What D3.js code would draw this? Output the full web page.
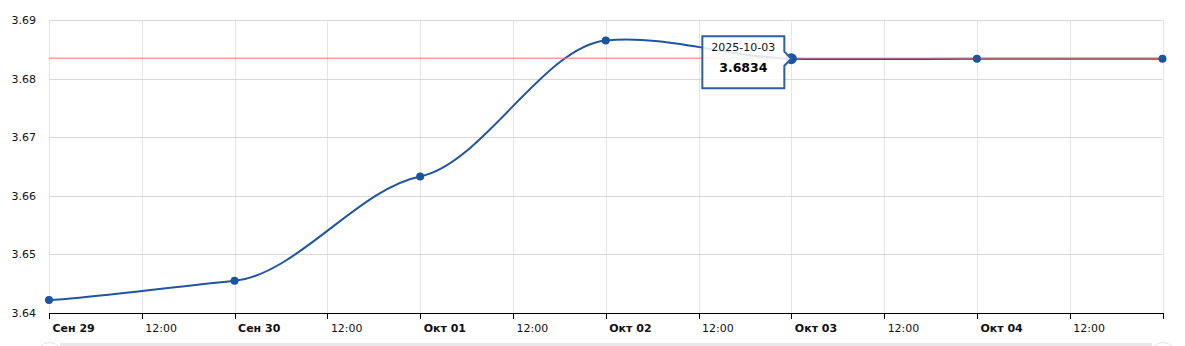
<!DOCTYPE html>
<html>
<head>
<meta charset="utf-8">
<script src="https://cdn.jsdelivr.net/npm/d3@7"></script>
<style>
  html, body { margin: 0; padding: 0; background: #fff; }
  svg { display: block; font-family: "DejaVu Sans", Verdana, sans-serif; }
</style>
</head>
<body>
<div id="chart"></div>
<script>
// rate by day
const dates = ['2025-09-29', '2025-09-30', '2025-10-01', '2025-10-02', '2025-10-03', '2025-10-04', '2025-10-05'];
const values = [3.6422, 3.6455, 3.6633, 3.6865, 3.6834, 3.6834, 3.6834];
const yTicks = [3.64, 3.65, 3.66, 3.67, 3.68, 3.69];
const xLabels = ['Сен 29', '12:00', 'Сен 30', '12:00', 'Окт 01', '12:00', 'Окт 02', '12:00', 'Окт 03', '12:00', 'Окт 04', '12:00'];
const lastValue = 3.6834;
const hoverIndex = 4;

const W = 1185, H = 346;
const marg = { left: 49, right: 22.5, top: 20, bot: 33 };

const parse = d3.utcParse('%Y-%m-%d');
const pts = dates.map((d, i) => ({ t: parse(d), v: values[i] }));

const x = d3.scaleUtc().domain([parse('2025-09-29'), parse('2025-10-05')]).range([marg.left, W - marg.right]);
const y = d3.scaleLinear().domain([3.64, 3.69]).range([H - marg.bot, marg.top]);

const svg = d3.select('#chart').append('svg').attr('width', W).attr('height', H);

// grid
const xTicks = d3.utcHour.every(12).range(x.domain()[0], d3.utcHour.offset(x.domain()[1], 1));
svg.append('g').selectAll('line').data(xTicks).enter().append('line')
  .attr('x1', d => Math.round(x(d)) + 0.5).attr('x2', d => Math.round(x(d)) + 0.5)
  .attr('y1', y(3.69)).attr('y2', y(3.64))
  .attr('stroke', '#e6e6e6');
svg.append('g').selectAll('line').data(yTicks).enter().append('line')
  .attr('x1', marg.left).attr('x2', W - marg.right)
  .attr('y1', d => Math.round(y(d)) + 0.5).attr('y2', d => Math.round(y(d)) + 0.5)
  .attr('stroke', '#d8d8d8');

// y labels
svg.append('g').selectAll('text').data(yTicks).enter().append('text')
  .attr('x', 36).attr('y', d => y(d) + 4)
  .attr('text-anchor', 'end').attr('font-size', 11).attr('fill', '#111')
  .text(d => d.toFixed(2));

// x axis
const xAxis = svg.append('g');
xAxis.append('line').attr('x1', marg.left).attr('x2', W - marg.right + 0.5)
  .attr('y1', y(3.64) + 0.5).attr('y2', y(3.64) + 0.5).attr('stroke', '#000');
xAxis.selectAll('.tk').data(xTicks).enter().append('line')
  .attr('x1', d => Math.round(x(d)) + 0.5).attr('x2', d => Math.round(x(d)) + 0.5)
  .attr('y1', y(3.64)).attr('y2', y(3.64) + 6).attr('stroke', '#000');
xAxis.selectAll('text').data(xLabels).enter().append('text')
  .attr('x', (d, i) => x(xTicks[i]) + 3.5).attr('y', y(3.64) + 19)
  .attr('font-size', 11).attr('fill', '#111')
  .attr('font-weight', d => d === '12:00' ? 'normal' : 'bold')
  .text(d => d);

// smoothed line, bezier tension 6 horizontally / 20 vertically
function smoothPath(p) {
  const bx = 6, by = 20;
  let d = 'M' + p[0][0] + ',' + p[0][1];
  for (let i = 0; i < p.length - 1; i++) {
    const p0 = p[Math.max(i - 1, 0)], p1 = p[i], p2 = p[i + 1], p3 = p[Math.min(i + 2, p.length - 1)];
    const c1x = (-p0[0] + bx * p1[0] + p2[0]) / bx, c1y = (-p0[1] + by * p1[1] + p2[1]) / by;
    const c2x = (p1[0] + bx * p2[0] - p3[0]) / bx, c2y = (p1[1] + by * p2[1] - p3[1]) / by;
    d += 'C' + c1x + ',' + c1y + ' ' + c2x + ',' + c2y + ' ' + p2[0] + ',' + p2[1];
  }
  return d;
}

const xy = pts.map(d => [x(d.t), y(d.v)]);
svg.append('path').attr('d', smoothPath(xy))
  .attr('fill', 'none').attr('stroke', '#1f55a2').attr('stroke-width', 2)
  .attr('stroke-linejoin', 'round').attr('stroke-linecap', 'round');

// last value line
svg.append('line').attr('x1', marg.left).attr('x2', W - marg.right)
  .attr('y1', y(lastValue) - 0.5).attr('y2', y(lastValue) - 0.5)
  .attr('stroke', '#ef7272').attr('stroke-width', 1);

// markers
svg.append('g').selectAll('circle').data(pts).enter().append('circle')
  .attr('cx', d => x(d.t)).attr('cy', d => y(d.v))
  .attr('r', (d, i) => i === hoverIndex ? 5.5 : 4)
  .attr('fill', '#1c54a1');

// tooltip
const hp = pts[hoverIndex];
const tx = x(hp.t), ty = y(hp.v);
const tip = svg.append('g');
const bx0 = tx - 89, bx1 = tx - 7, by0 = ty - 22.5, by1 = ty + 29.5;
tip.append('path')
  .attr('d', `M${bx0},${by0}H${bx1}V${ty - 7}L${tx},${ty}L${bx1},${ty + 7}V${by1}H${bx0}Z`)
  .attr('fill', 'rgba(255,255,255,0.85)').attr('stroke', '#2f5ea6').attr('stroke-width', 2);
tip.append('text').attr('x', (bx0 + bx1) / 2).attr('y', by0 + 15)
  .attr('text-anchor', 'middle').attr('font-size', 11).attr('fill', '#111')
  .text(d3.utcFormat('%Y-%m-%d')(hp.t));
tip.append('text').attr('x', (bx0 + bx1) / 2).attr('y', by0 + 36)
  .attr('text-anchor', 'middle').attr('font-size', 12.5).attr('font-weight', 'bold').attr('fill', '#000')
  .text(hp.v.toFixed(4));

// scrollbar remnant at the bottom
svg.append('rect').attr('x', 60).attr('y', 343).attr('width', 1092).attr('height', 4).attr('fill', '#e8e8e8');
svg.selectAll('.grip').data([marg.left, W - marg.right]).enter().append('circle')
  .attr('cx', d => d + 0.5).attr('cy', 355).attr('r', 12.5)
  .attr('fill', '#fff').attr('stroke', '#e4e4e4');
</script>
</body>
</html>
